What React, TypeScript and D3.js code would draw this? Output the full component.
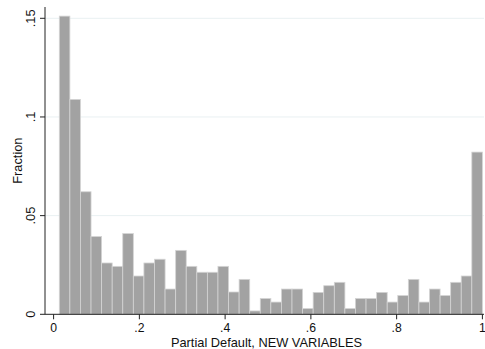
import React, { useRef, useEffect } from 'react';
import * as d3 from 'd3';

// fraction per bin (40 bins)
const binFractions = [
  0.1511, 0.1089, 0.0621, 0.0394, 0.026, 0.0243, 0.0409, 0.0194, 0.026, 0.0279,
  0.0128, 0.0324, 0.0243, 0.0213, 0.0213, 0.0243, 0.0113, 0.0177, 0.0017, 0.008,
  0.0062, 0.0128, 0.0128, 0.0029, 0.0111, 0.0145, 0.0162, 0.0029, 0.008, 0.008,
  0.0111, 0.0062, 0.0095, 0.0177, 0.0062, 0.0128, 0.0095, 0.0162, 0.0194, 0.0822,
];
const binStart = 0.0133;
const binEnd = 1;

const xTicks = [0, 0.2, 0.4, 0.6, 0.8, 1];
const yTicks = [0, 0.05, 0.1, 0.15];
const xTitle = 'Partial Default, NEW VARIABLES';
const yTitle = 'Fraction';

const fmt = (v: number) => (v === 0 ? '0' : v === 1 ? '1' : String(v).replace(/^0/, ''));

const W = 485;
const H = 349;

const App = () => {
  const svgRef = useRef<SVGSVGElement>(null);

  useEffect(() => {
    const svg = d3.select(svgRef.current);
    svg.selectAll('*').remove();

    const x = d3.scaleLinear().domain([0, 1]).range([53.6, 482.4]);
    const y = d3.scaleLinear().domain([0, 0.15]).range([314.3, 18.3]);
    const plotLeft = 45;
    const plotTop = 7;
    const plotRight = 484;
    const base = y(0);
    const font = 'Liberation Sans, Arial, Helvetica, sans-serif';

    // gridlines
    svg.append('g')
      .selectAll('line')
      .data(yTicks.filter(t => t > 0))
      .join('line')
      .attr('x1', plotLeft)
      .attr('x2', plotRight)
      .attr('y1', d => y(d))
      .attr('y2', d => y(d))
      .attr('stroke', '#e9f0f2')
      .attr('stroke-width', 1);

    // bars
    const bw = (binEnd - binStart) / binFractions.length;
    svg.append('g')
      .selectAll('rect')
      .data(binFractions)
      .join('rect')
      .attr('x', (d, i) => x(binStart + i * bw))
      .attr('width', (d, i) => x(binStart + (i + 1) * bw) - x(binStart + i * bw))
      .attr('y', d => y(d))
      .attr('height', d => base - y(d))
      .attr('fill', '#a2a2a2')
      .attr('stroke', '#d4d4d4')
      .attr('stroke-width', 0.8);

    // y axis
    const ya = svg.append('g').attr('font-family', font).attr('font-size', 12.8);
    ya.append('line')
      .attr('x1', plotLeft).attr('x2', plotLeft)
      .attr('y1', plotTop).attr('y2', base)
      .attr('stroke', '#222').attr('stroke-width', 1);
    ya.selectAll('line.tick')
      .data(yTicks)
      .join('line')
      .attr('class', 'tick')
      .attr('x1', plotLeft - 5).attr('x2', plotLeft)
      .attr('y1', d => y(d)).attr('y2', d => y(d))
      .attr('stroke', '#222');
    ya.selectAll('text.lab')
      .data(yTicks)
      .join('text')
      .attr('class', 'lab')
      .attr('transform', d => `translate(34.5,${y(d)}) rotate(-90)`)
      .attr('text-anchor', 'middle')
      .attr('fill', '#111')
      .text(d => fmt(d));
    ya.append('text')
      .attr('transform', `translate(21.5,${(plotTop + base) / 2}) rotate(-90)`)
      .attr('text-anchor', 'middle')
      .attr('fill', '#111')
      .text(yTitle);

    // x axis
    const xa = svg.append('g').attr('font-family', font).attr('font-size', 12.8);
    xa.append('line')
      .attr('x1', plotLeft).attr('x2', plotRight)
      .attr('y1', base).attr('y2', base)
      .attr('stroke', '#222');
    xa.selectAll('line.tick')
      .data(xTicks)
      .join('line')
      .attr('class', 'tick')
      .attr('x1', d => x(d)).attr('x2', d => x(d))
      .attr('y1', base).attr('y2', base + 5)
      .attr('stroke', '#222');
    xa.selectAll('text.lab')
      .data(xTicks)
      .join('text')
      .attr('class', 'lab')
      .attr('x', d => x(d))
      .attr('y', 332)
      .attr('font-size', 12.2)
      .attr('text-anchor', 'middle')
      .attr('fill', '#111')
      .text(d => fmt(d));
    xa.append('text')
      .attr('x', 266.5)
      .attr('y', 346.5)
      .attr('text-anchor', 'middle')
      .attr('fill', '#111')
      .text(xTitle);
  }, []);

  return (
    <div style={{ position: 'absolute', left: 0, top: 0, background: '#fff' }}>
      <svg ref={svgRef} width={W} height={H} style={{ display: 'block' }}></svg>
    </div>
  );
};

export default App;
